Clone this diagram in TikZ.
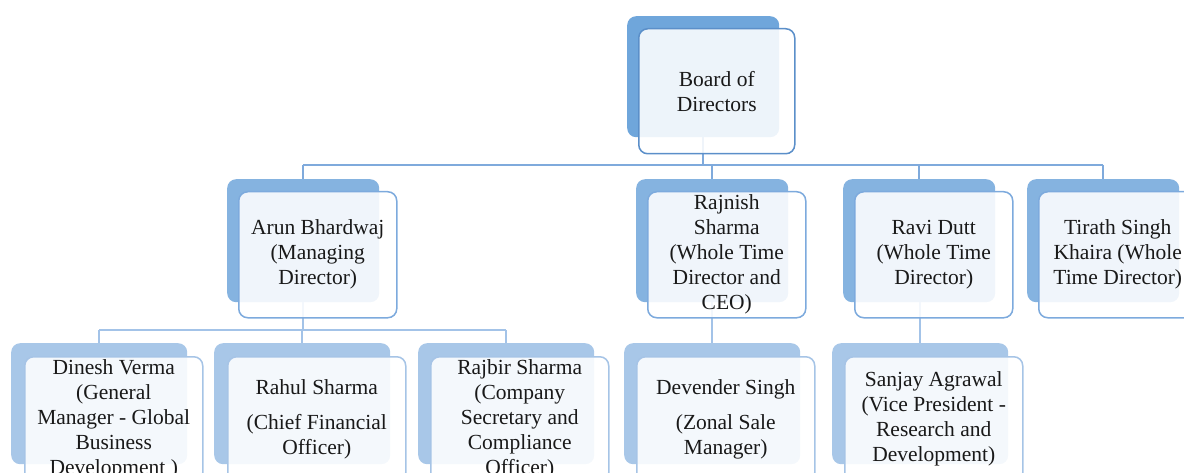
\documentclass[tikz,border=0pt]{standalone}
\usepackage{fontspec}
\setmainfont{Liberation Serif}
\usepackage{xcolor}
\definecolor{boardfill}{HTML}{6FA6DB}
\definecolor{boardline}{HTML}{5B8FC9}
\definecolor{midfill}{HTML}{85B3E0}
\definecolor{midline}{HTML}{7DAADD}
\definecolor{lowfill}{HTML}{A8C7E8}
\definecolor{lowline}{HTML}{A6C4E6}
\definecolor{topwirec}{HTML}{7FAADC}
\definecolor{lowwirec}{HTML}{A3C3E8}
\newcommand\namefont{\fontsize{21.5}{25}\selectfont}
\tikzset{
    back/.style={rounded corners=9pt, inner sep=0pt, anchor=north west},
    front/.style={rounded corners=9pt, inner sep=0pt, anchor=north west,
        line width=1.5pt, fill=white, fill opacity=0.88, text opacity=1,
        align=center, text=black!90, font=\namefont},
    topback/.style={back, fill=boardfill, minimum width=152pt, minimum height=121pt},
    topfront/.style={front, draw=boardline, minimum width=156pt, minimum height=125pt},
    midback/.style={back, fill=midfill, minimum width=152pt, minimum height=123pt},
    midfront/.style={front, draw=midline, minimum width=158pt, minimum height=126pt},
    lowback/.style={back, fill=lowfill, minimum width=176pt, minimum height=121pt},
    lowfront/.style={front, draw=lowline, minimum width=178pt, minimum height=125pt},
    topwire/.style={draw=topwirec, line width=1.8pt},
    lowwire/.style={draw=lowwirec, line width=1.8pt},
}

\begin{document}
\begin{tikzpicture}[x=1pt,y=-1pt]
        \useasboundingbox (0,0) rectangle (1184,473);
        \clip (0,0) rectangle (1184,473);
        \node[topback] (boardbk) at (627,16) {};
        \node[midback] (arunbk) at (227,179) {};
        \node[midback] (rajnishbk) at (636,179) {};
        \node[midback] (ravibk) at (843,179) {};
        \node[midback] (tirathbk) at (1027,179) {};
        \node[lowback] (dineshbk) at (11,343) {};
        \node[lowback] (rahulbk) at (214,343) {};
        \node[lowback] (rajbirbk) at (418,343) {};
        \node[lowback] (devenderbk) at (624,343) {};
        \node[lowback] (sanjaybk) at (832,343) {};
        \coordinate (topbus) at (0,165);
        \coordinate (lowbus) at (0,330);
        \draw[topwire] (boardbk.south) -- (boardbk.south |- topbus);
        \draw[topwire] (arunbk.north |- topbus) -- (tirathbk.north |- topbus);
        \foreach \n in {arunbk,rajnishbk,ravibk,tirathbk}
            \draw[topwire] (\n.north |- topbus) -- (\n.north);
        \draw[lowwire] (arunbk.south) -- (arunbk.south |- lowbus);
        \draw[lowwire] (dineshbk.north |- lowbus) -- (rajbirbk.north |- lowbus);
        \foreach \n in {dineshbk,rahulbk,rajbirbk}
            \draw[lowwire] (\n.north |- lowbus) -- (\n.north);
        \draw[lowwire] (devenderbk.north |- rajnishbk.south) -- (devenderbk.north);
        \draw[lowwire] (sanjaybk.north |- ravibk.south) -- (sanjaybk.north);
        \node[topfront] (board) at ([xshift=11pt,yshift=-12pt]boardbk.north west) {Board of\\Directors};
        \node[midfront] (arun) at ([xshift=11pt,yshift=-12pt]arunbk.north west) {Arun Bhardwaj\\(Managing\\Director)};
        \node[midfront] (rajnish) at ([xshift=11pt,yshift=-12pt]rajnishbk.north west) {Rajnish\\Sharma\\(Whole Time\\Director and\\CEO)};
        \node[midfront] (ravi) at ([xshift=11pt,yshift=-12pt]ravibk.north west) {Ravi Dutt\\(Whole Time\\Director)};
        \node[midfront] (tirath) at ([xshift=11pt,yshift=-12pt]tirathbk.north west) {Tirath Singh\\Khaira (Whole\\Time Director)};
        \node[lowfront] (dinesh) at ([xshift=13pt,yshift=-13pt]dineshbk.north west) {Dinesh Verma\\(General\\Manager - Global\\Business\\Development )};
        \node[lowfront] (rahul) at ([xshift=13pt,yshift=-13pt]rahulbk.north west) {Rahul Sharma\\[10pt](Chief Financial\\Officer)};
        \node[lowfront] (rajbir) at ([xshift=12pt,yshift=-13pt]rajbirbk.north west) {Rajbir Sharma\\(Company\\Secretary and\\Compliance\\Officer)};
        \node[lowfront] (devender) at ([xshift=12pt,yshift=-13pt]devenderbk.north west) {Devender Singh\\[10pt](Zonal Sale\\Manager)};
        \node[lowfront] (sanjay) at ([xshift=12pt,yshift=-13pt]sanjaybk.north west) {Sanjay Agrawal\\(Vice President -\\Research and\\Development)};
    \end{tikzpicture}
\end{document}
